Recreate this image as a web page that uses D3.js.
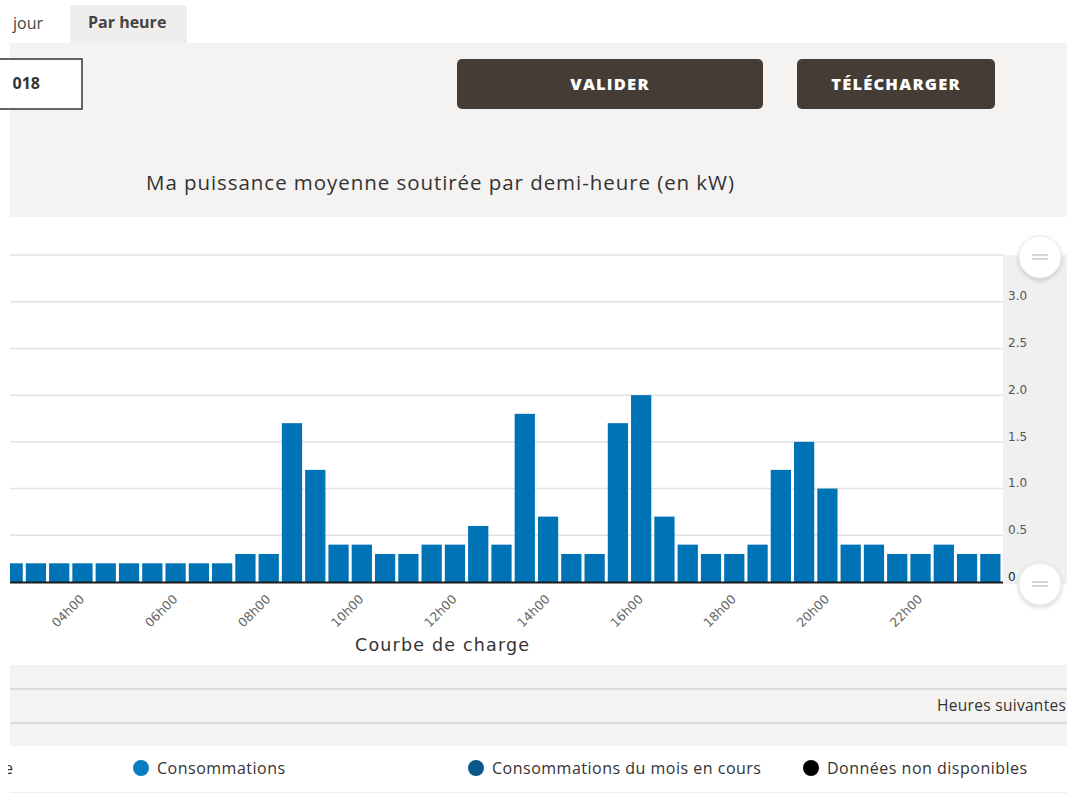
<!DOCTYPE html>
<html><head><meta charset="utf-8">
<script src="https://cdn.jsdelivr.net/npm/d3@7"></script>
<style>
html,body{margin:0;padding:0;background:#fff;}
svg{display:block;}
</style></head>
<body>
<svg id="chart" width="1067" height="793"></svg>
<script>
// ---- data ----
const times = ["02h30","03h00","03h30","04h00","04h30","05h00","05h30","06h00","06h30","07h00","07h30",
  "08h00","08h30","09h00","09h30","10h00","10h30","11h00","11h30","12h00","12h30","13h00","13h30",
  "14h00","14h30","15h00","15h30","16h00","16h30","17h00","17h30","18h00","18h30","19h00","19h30",
  "20h00","20h30","21h00","21h30","22h00","22h30","23h00","23h30"];
const values = [0.2,0.2,0.2,0.2,0.2,0.2,0.2,0.2,0.2,0.2,0.3,
  0.3,1.7,1.2,0.4,0.4,0.3,0.3,0.4,0.4,0.6,0.4,1.8,
  0.7,0.3,0.3,1.7,2.0,0.7,0.4,0.3,0.3,0.4,1.2,1.5,
  1.0,0.4,0.4,0.3,0.3,0.4,0.3,0.3];
const tickLabels = ["04h00","06h00","08h00","10h00","12h00","14h00","16h00","18h00","20h00","22h00"];
const yTicks = [0,0.5,1.0,1.5,2.0,2.5,3.0];
const yMax = 3.5;
const legendItems = ["Consommations","Consommations du mois en cours","Données non disponibles"];
const legendColors = ["#0a7cc1","#0b5888","#000000"];

const svg = d3.select("#chart");
const defs = svg.append("defs");
defs.append("clipPath").attr("id","plotClip").append("rect").attr("x",10).attr("y",200).attr("width",993).attr("height",400);
defs.append("clipPath").attr("id","leftClip").append("rect").attr("x",8).attr("y",0).attr("width",1059).attr("height",793);
defs.append("clipPath").attr("id","dateClip").append("rect").attr("x",13).attr("y",0).attr("width",100).attr("height",200);
const sh = defs.append("filter").attr("id","shadow").attr("x","-50%").attr("y","-50%").attr("width","200%").attr("height","200%");
sh.append("feDropShadow").attr("dx",0).attr("dy",2).attr("stdDeviation",2).attr("flood-color","#000").attr("flood-opacity",0.18);

// ---- page chrome ----
svg.append("rect").attr("x",0).attr("y",0).attr("width",1067).attr("height",793).attr("fill","#fff");
svg.append("rect").attr("x",10).attr("y",43).attr("width",1057).attr("height",174).attr("fill","#f4f3f2");
// tabs
svg.append("rect").attr("x",0).attr("y",5).attr("width",67).attr("height",38).attr("fill","#fff");
svg.append("rect").attr("x",70).attr("y",5).attr("width",117).attr("height",38).attr("rx",3).attr("fill","#efeeec");
svg.append("rect").attr("x",70).attr("y",30).attr("width",117).attr("height",13).attr("fill","#efeeec");
svg.append("text").attr("x",13).attr("y",29).attr("font-family","Open Sans").attr("font-size",16).attr("fill","#444").text("jour");
svg.append("text").attr("x",88).attr("y",28).attr("font-family","Open Sans").attr("font-weight","bold").attr("font-size",16).attr("fill","#444").text("Par heure");
// date box
svg.append("rect").attr("x",-20).attr("y",59).attr("width",102).attr("height",50).attr("fill","#fff").attr("stroke","#333").attr("stroke-width",1.5);
svg.append("g").attr("clip-path","url(#dateClip)")
  .append("text").attr("x",40).attr("y",89).attr("text-anchor","end").attr("font-family","Open Sans").attr("font-weight","bold").attr("font-size",16).attr("fill","#333").text("01/2018");
// buttons
[[457,306,"VALIDER"],[797,198,"TÉLÉCHARGER"]].forEach(b=>{
  svg.append("rect").attr("x",b[0]).attr("y",59).attr("width",b[1]).attr("height",50).attr("rx",5).attr("fill","#453c35");
  svg.append("text").attr("x",b[0]+b[1]/2).attr("y",90).attr("text-anchor","middle").attr("font-family","Open Sans").attr("font-weight",800).attr("font-size",16.5).attr("letter-spacing",1.2).attr("fill","#fff").text(b[2]);
});
// title
svg.append("text").attr("x",440).attr("y",190).attr("text-anchor","middle").attr("font-family","Open Sans").attr("font-weight",500).attr("font-size",20.5)
  .attr("textLength",588).attr("lengthAdjust","spacing").attr("fill","#333").text("Ma puissance moyenne soutirée par demi-heure (en kW)");

// ---- chart ----
const plotLeft = 10, plotRight = 1003, plotTop = 255, plotBottom = 582;
const x = d3.scaleBand().domain(times).range([1,1002]).paddingInner(0.13).paddingOuter(0.065);
const y = d3.scaleLinear().domain([0,yMax]).range([plotBottom,plotTop]);

// right axis grey column
svg.append("rect").attr("x",plotRight).attr("y",plotTop).attr("width",1067-plotRight).attr("height",plotBottom-plotTop+2).attr("fill","#f0f0f0");

// grid
const gridVals = yTicks.concat([yMax]).filter(v=>v>0);
svg.append("g").selectAll("line").data(gridVals).join("line")
  .attr("x1",plotLeft).attr("x2",plotRight).attr("y1",d=>y(d)).attr("y2",d=>y(d))
  .attr("stroke","#e3e3e3").attr("stroke-width",1.5);

// bars
svg.append("g").attr("clip-path","url(#plotClip)").selectAll("rect").data(values).join("rect")
  .attr("x",(d,i)=>x(times[i])).attr("width",x.bandwidth())
  .attr("y",d=>y(d)).attr("height",d=>plotBottom-y(d))
  .attr("fill","#0072b6");

// baseline
svg.append("line").attr("x1",plotLeft).attr("x2",plotRight).attr("y1",plotBottom+0.5).attr("y2",plotBottom+0.5).attr("stroke","#1a1a1a").attr("stroke-width",2);

// y axis (right)
const yAxis = d3.axisRight(y).tickValues(yTicks).tickSize(0).tickPadding(0)
  .tickFormat(d=> d===0 ? "0" : d3.format(".1f")(d));
const gy = svg.append("g").attr("transform",`translate(${plotRight+5},0)`).call(yAxis);
gy.select(".domain").remove();
gy.selectAll("text").attr("font-family","DejaVu Sans").attr("font-size",12).attr("fill",(d)=>d===0?"#222":"#555").attr("dy","-0.15em").attr("dx",0);

// x axis
const xAxis = d3.axisBottom(x).tickValues(tickLabels).tickSize(0).tickPadding(0);
const gx = svg.append("g").attr("transform",`translate(0,${plotBottom+10})`).call(xAxis);
gx.select(".domain").remove();
gx.selectAll("text").attr("font-family","DejaVu Sans").attr("font-size",12.5).attr("fill","#666")
  .attr("text-anchor","end").attr("transform","rotate(-45)").attr("dx","-0.3em").attr("dy","0.6em");

// zoom handles
[plotTop+2, plotBottom+2].forEach(cy=>{
  const g = svg.append("g");
  g.append("circle").attr("cx",1040).attr("cy",cy).attr("r",21).attr("fill","#fff").attr("stroke","#e6e6e6").attr("filter","url(#shadow)");
  g.append("line").attr("x1",1032).attr("x2",1048).attr("y1",cy-2).attr("y2",cy-2).attr("stroke","#bbb").attr("stroke-width",1.2);
  g.append("line").attr("x1",1032).attr("x2",1048).attr("y1",cy+2).attr("y2",cy+2).attr("stroke","#bbb").attr("stroke-width",1.2);
});

// x axis title
svg.append("text").attr("x",442).attr("y",651).attr("text-anchor","middle").attr("font-family","DejaVu Sans").attr("font-size",17.5)
  .attr("textLength",174).attr("lengthAdjust","spacing").attr("fill","#333").text("Courbe de charge");

// ---- bottom bands ----
svg.append("rect").attr("x",10).attr("y",665).attr("width",1057).attr("height",81).attr("fill","#f4f3f2");
svg.append("rect").attr("x",10).attr("y",688).attr("width",1057).attr("height",2).attr("fill","#dcdbd9");
svg.append("rect").attr("x",10).attr("y",722).attr("width",1057).attr("height",2).attr("fill","#dcdbd9");
svg.append("text").attr("x",937).attr("y",711).attr("font-family","Open Sans").attr("font-size",15.5).attr("letter-spacing",0.3).attr("fill","#333").text("Heures suivantes");
svg.append("line").attr("x1",10).attr("x2",1067).attr("y1",792.5).attr("y2",792.5).attr("stroke","#eee");

// legend
svg.append("g").attr("clip-path","url(#leftClip)").append("text").attr("x",13).attr("y",774).attr("text-anchor","end")
  .attr("font-family","Open Sans").attr("font-size",16).attr("fill","#333").text("Données estimée");
const legX = [141,476,811];
legendItems.forEach((t,i)=>{
  svg.append("circle").attr("cx",legX[i]).attr("cy",768).attr("r",8).attr("fill",legendColors[i]);
  svg.append("text").attr("x",legX[i]+16).attr("y",774).attr("font-family","Open Sans").attr("font-size",16).attr("letter-spacing",0.5).attr("fill","#333").text(t);
});
</script>
</body></html>
